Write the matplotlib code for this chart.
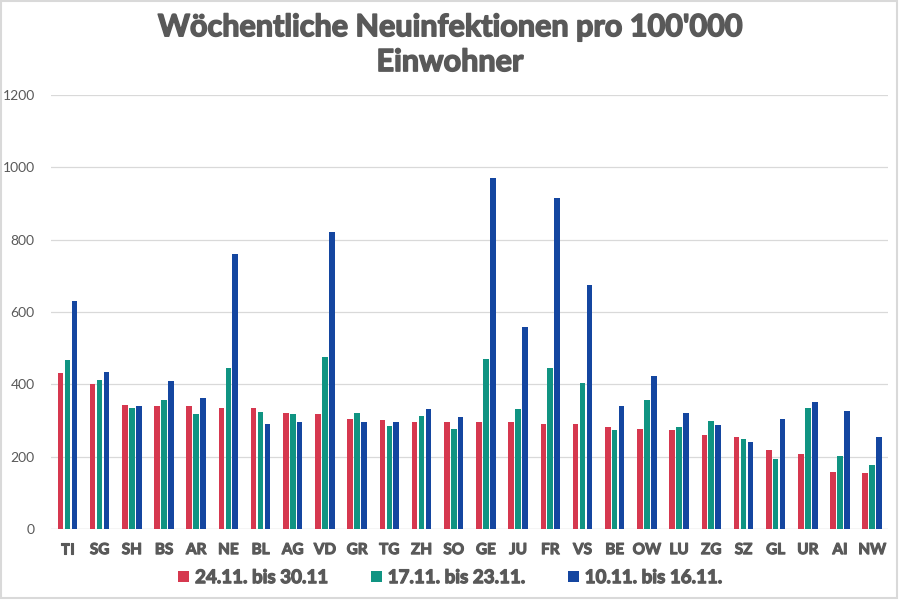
import matplotlib
matplotlib.use("Agg")
import matplotlib.pyplot as plt
import matplotlib.patheffects as pe
import numpy as np
from matplotlib.patches import Rectangle

# Kantone und Inzidenzen pro 100'000 Einwohner
kantone = ["TI", "SG", "SH", "BS", "AR", "NE", "BL", "AG", "VD", "GR", "TG", "ZH", "SO",
           "GE", "JU", "FR", "VS", "BE", "OW", "LU", "ZG", "SZ", "GL", "UR", "AI", "NW"]
woche_24_30 = [431, 402, 343, 340, 340, 336, 336, 322, 317, 305, 302, 297, 295,
               295, 295, 290, 290, 281, 278, 273, 259, 256, 220, 208, 158, 156]
woche_17_23 = [467, 412, 336, 358, 319, 445, 324, 317, 476, 322, 285, 312, 278,
               470, 333, 444, 404, 275, 356, 281, 300, 249, 193, 336, 202, 178]
woche_10_16 = [630, 435, 339, 409, 363, 760, 290, 295, 821, 295, 295, 333, 309,
               969, 558, 916, 675, 341, 422, 322, 287, 241, 305, 351, 326, 256]

labels = ["24.11. bis 30.11", "17.11. bis 23.11.", "10.11. bis 16.11."]
farben = ["#D6384F", "#109482", "#1446A0"]
text_grau = "#595959"

plt.rcParams["font.family"] = ["Lato", "DejaVu Sans"]


def fett(lw):
    # Lato liegt nur in schmalen Schnitten vor -> Strich verdicken
    return [pe.withStroke(linewidth=lw, foreground=text_grau)]


fig = plt.figure(figsize=(9, 6), dpi=100)
ax = fig.add_axes([0.057, 0.118, 0.930, 0.724])

x = np.arange(len(kantone))
breite = 0.175
abstand = 0.215
for i, (werte, lab, col) in enumerate(zip([woche_24_30, woche_17_23, woche_10_16], labels, farben)):
    ax.bar(x + (i - 1) * abstand, werte, width=breite, color=col, label=lab, zorder=3)

ax.set_xlim(-0.5, len(kantone) - 0.5)
ax.set_ylim(0, 1200)
ax.set_yticks(range(0, 1201, 200))
ax.set_xticks(x)
ax.set_xticklabels(kantone, fontsize=11, fontweight="bold", color=text_grau,
                   path_effects=fett(0.8))
ax.tick_params(axis="y", labelsize=10, colors=text_grau, length=0, pad=12)
ax.tick_params(axis="x", length=0, pad=10)
ax.grid(axis="y", color="#D9D9D9", lw=0.9, zorder=0)
for s in ax.spines.values():
    s.set_visible(False)
ax.axhline(0, color="#D9D9D9", lw=0.9, zorder=1)

fig.suptitle("Wöchentliche Neuinfektionen pro 100'000\nEinwohner", fontsize=22,
             fontweight="bold", color=text_grau, y=0.978, linespacing=1.3,
             path_effects=fett(1.1))

leg = fig.legend(loc="lower center", bbox_to_anchor=(0.5, -0.005), ncol=3, frameon=False,
                 fontsize=13.5, handlelength=0.6, handleheight=0.6, handletextpad=0.3,
                 columnspacing=2.3)
for t in leg.get_texts():
    t.set_fontweight("bold")
    t.set_color(text_grau)
    t.set_path_effects(fett(0.9))

# heller Rahmen um die Grafik
fig.patches.append(Rectangle((0.001, 0.004), 0.996, 0.994, transform=fig.transFigure,
                             fill=False, edgecolor="#D9D9D9", lw=1.5))

fig.savefig("out.png", dpi=100)
